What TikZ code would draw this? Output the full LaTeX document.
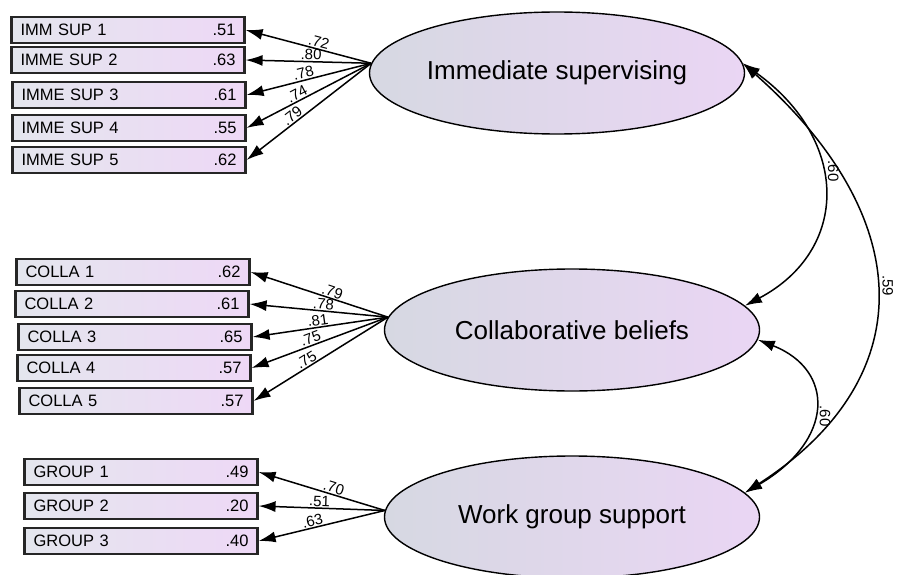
\documentclass[tikz,border=0pt]{standalone}
\usepackage{fontspec}
\setmainfont{Liberation Sans}
\usetikzlibrary{arrows.meta,shapes.geometric}

\definecolor{boxleft}{RGB}{228,230,238}
\definecolor{boxright}{RGB}{238,216,246}
\definecolor{latleft}{RGB}{214,216,226}
\definecolor{latright}{RGB}{234,214,244}

\begin{document}
\begin{tikzpicture}[x=1pt,y=-1pt,
    obs/.style={draw=black!85, line width=2.2pt, left color=boxleft, right color=boxright,
        minimum width=233pt, minimum height=26pt, text width=215pt, inner sep=0pt,
        align=left, font=\fontsize{16.5}{16.5}\selectfont},
    lat/.style={ellipse, draw, line width=1.4pt, left color=latleft, right color=latright,
        minimum width=375pt, minimum height=122pt, inner sep=0pt,
        font=\fontsize{26}{26}\selectfont},
    load/.style={line width=1.5pt, {Latex[length=17pt,width=11pt]}-},
    cov/.style={line width=1.5pt, {Latex[length=17pt,width=11pt]}-{Latex[length=17pt,width=11pt]}},
    est/.style={font=\fontsize{15}{15}\selectfont, inner sep=1pt}]

    \useasboundingbox (0,0) rectangle (899,575);

    % Latent factors
    \node[lat] (isup) at (557,73) {Immediate supervising};
    \node[lat] (collab) at (572,330) {Collaborative beliefs};
    \node[lat] (work) at (572,517) {Work group support};

    % Indicators
    \node[obs] (i1) at (128,30) {IMM SUP 1\hfill .51};
    \node[obs] (i2) at (128,60) {IMME SUP 2\hfill .63};
    \node[obs] (i3) at (129,95) {IMME SUP 3\hfill .61};
    \node[obs] (i4) at (129,128) {IMME SUP 4\hfill .55};
    \node[obs] (i5) at (129,160) {IMME SUP 5\hfill .62};

    \node[obs] (c1) at (133,272) {COLLA 1\hfill .62};
    \node[obs] (c2) at (132,304) {COLLA 2\hfill .61};
    \node[obs] (c3) at (135,337) {COLLA 3\hfill .65};
    \node[obs] (c4) at (134,368) {COLLA 4\hfill .57};
    \node[obs] (c5) at (136,401) {COLLA 5\hfill .57};

    \node[obs] (g1) at (141,472) {GROUP 1\hfill .49};
    \node[obs] (g2) at (141,506) {GROUP 2\hfill .20};
    \node[obs] (g3) at (141,541) {GROUP 3\hfill .40};

    % Loadings
    \draw[load] (i1.east) -- (isup.177) node[est,sloped,above,pos=0.57] {.72};
    \draw[load] (i2.east) -- (isup.177) node[est,sloped,above,pos=0.52] {.80};
    \draw[load] (i3.east) -- (isup.177) node[est,sloped,above,pos=0.47] {.78};
    \draw[load] (i4.east) -- (isup.177) node[est,sloped,above,pos=0.43] {.74};
    \draw[load] (i5.east) -- (isup.177) node[est,sloped,above,pos=0.40] {.79};

    \draw[load] (c1.east) -- (collab.176) node[est,sloped,above,pos=0.58] {.79};
    \draw[load] (c2.east) -- (collab.176) node[est,sloped,above,pos=0.53] {.78};
    \draw[load] (c3.east) -- (collab.176) node[est,sloped,above,pos=0.49] {.81};
    \draw[load] (c4.east) -- (collab.176) node[est,sloped,above,pos=0.45] {.75};
    \draw[load] (c5.east) -- (collab.176) node[est,sloped,above,pos=0.42] {.75};

    \draw[load] (g1.east) -- (work.178) node[est,sloped,above,pos=0.58] {.70};
    \draw[load] (g2.east) -- (work.178) node[est,sloped,above,pos=0.48] {.51};
    \draw[load] (g3.east) -- (work.178) node[est,sloped,above,pos=0.44] {.63};

    % Correlations
    \draw[cov] (isup.3) .. controls (850,140) and (850,250) .. (collab.8)
        node[est,rotate=-90,anchor=south,inner sep=6pt,pos=0.42] {.60};
    \draw[cov] (isup.3) .. controls (920,220) and (920,380) .. (work.8)
        node[est,rotate=-90,anchor=south,inner sep=6pt,pos=0.48] {.59};
    \draw[cov] (collab.-3) .. controls (835,370) and (835,440) .. (work.8)
        node[est,rotate=-90,anchor=south,inner sep=6pt,pos=0.55] {.60};

\end{tikzpicture}
\end{document}
